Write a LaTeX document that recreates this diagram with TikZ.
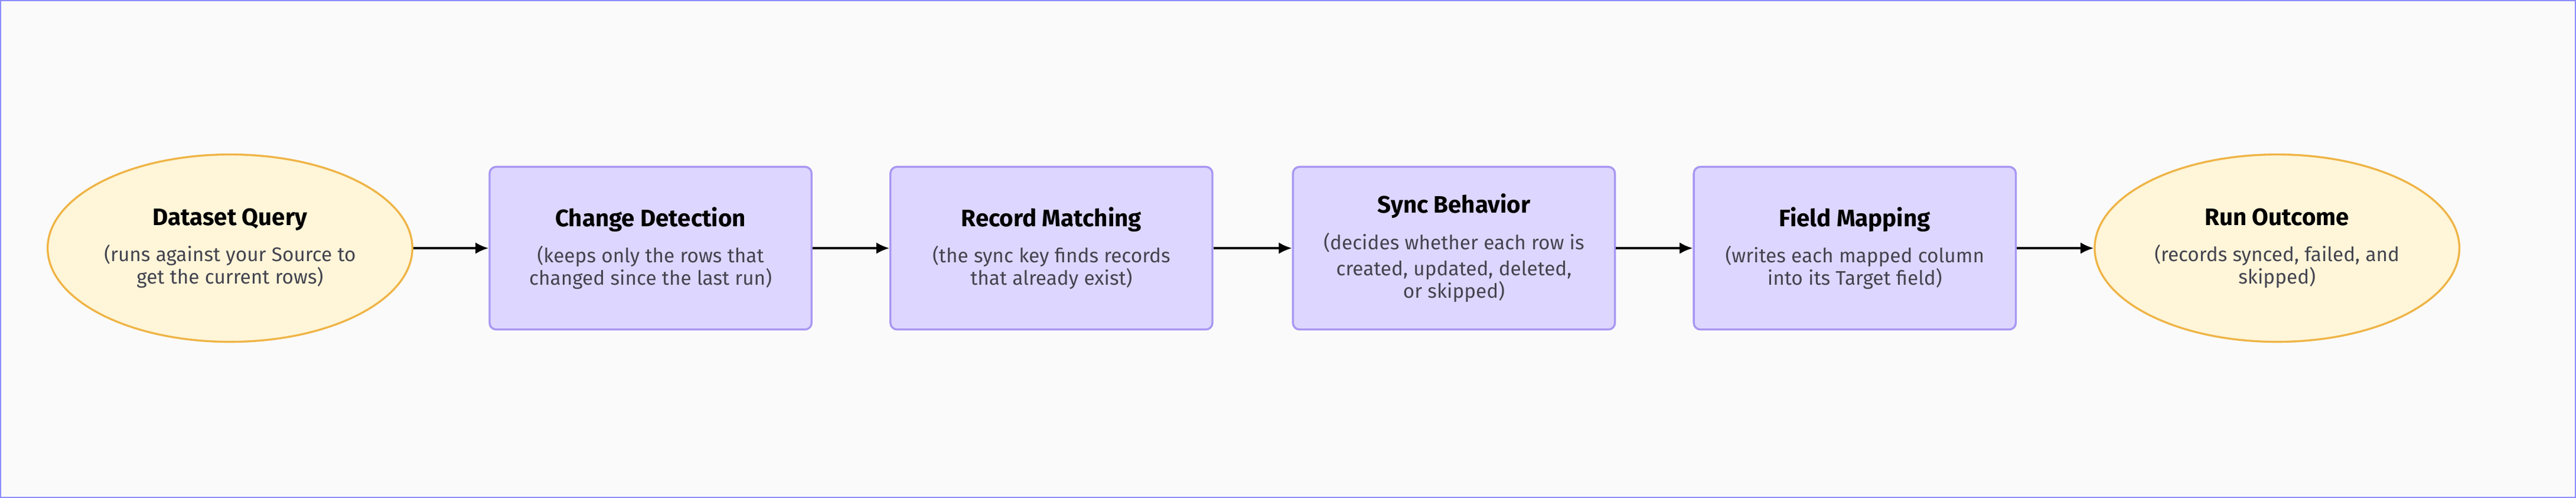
\documentclass[tikz,border=0pt]{standalone}
\usepackage{fontspec}
\setmainfont{Fira Sans}
\usetikzlibrary{shapes.geometric,arrows.meta}
\definecolor{stepfill}{HTML}{DDD6FE}
\definecolor{stepline}{HTML}{A897F2}
\definecolor{endfill}{HTML}{FFF5D8}
\definecolor{endline}{HTML}{EFB446}
\definecolor{subtext}{HTML}{444450}
\newcommand{\steptext}[2]{{\fontsize{14.5}{17}\selectfont\bfseries #1}\\[6pt]{\fontsize{12}{16}\selectfont\color{subtext}#2}}
\begin{document}
\begin{tikzpicture}[
    x=1pt, y=-1pt,
    stage/.style={rectangle, draw=stepline, line width=1.2pt, fill=stepfill, text width=186pt, align=center, rounded corners=4pt, minimum width=196pt, minimum height=99pt},
    term/.style={ellipse, draw=endline, line width=1.2pt, fill=endfill, text width=156pt, align=center, minimum width=222pt, minimum height=114pt, inner sep=0pt},
    flow/.style={-{Latex[length=8pt,width=7pt]}, line width=1.2pt, black}
]
\draw[draw=blue!45, fill=white!98!black, line width=0.8pt] (0.4,0.4) rectangle (1567.6,302.6);
\useasboundingbox (0,0) rectangle (1568,303);

% Start
\node[term] (query) at (140,151) {\steptext{Dataset Query}{(runs against your Source to\\get the current rows)}};

% Pipeline stages
\node[stage] (change) at (396,151) {\steptext{Change Detection}{(keeps only the rows that\\changed since the last run)}};
\node[stage] (match) at (640,151) {\steptext{Record Matching}{(the sync key finds records\\that already exist)}};
\node[stage] (behave) at (885,151) {\steptext{Sync Behavior}{(decides whether each row is\\created, updated, deleted,\\or skipped)}};
\node[stage] (mapping) at (1129,151) {\steptext{Field Mapping}{(writes each mapped column\\into its Target field)}};

% End
\node[term] (outcome) at (1386,151) {\steptext{Run Outcome}{(records synced, failed, and\\skipped)}};

\draw[flow] (query) -- (change);
\draw[flow] (change) -- (match);
\draw[flow] (match) -- (behave);
\draw[flow] (behave) -- (mapping);
\draw[flow] (mapping) -- (outcome);
\end{tikzpicture}
\end{document}
